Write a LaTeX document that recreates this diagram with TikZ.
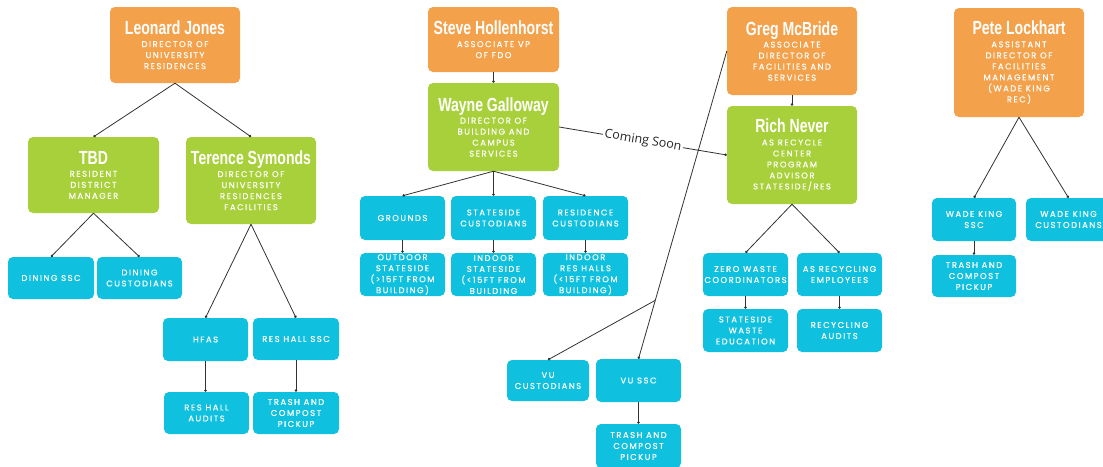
\documentclass[tikz,border=0pt]{standalone}
\usepackage{fontspec}
\usetikzlibrary{arrows.meta,calc}
\newfontfamily\namef{Liberation Sans}[FakeStretch=0.74]
\newfontfamily\rolef{Poppins}[LetterSpace=18, FakeBold=0.4]
\newfontfamily\soonf{Open Sans}
\definecolor{org}{RGB}{243,161,75}
\definecolor{grn}{RGB}{168,208,58}
\definecolor{cyn}{RGB}{16,193,223}
\definecolor{lnc}{RGB}{50,50,50}
\newcommand\nm[1]{{\namef\bfseries\fontsize{19}{20}\selectfont #1}\\[1.5pt]}
\tikzset{
 box/.style={rounded corners=5pt, text=white, align=center, inner sep=0pt, font=\rolef\fontsize{8.4}{11}\selectfont},
 obox/.style={box, fill=org},
 gbox/.style={box, fill=grn},
 cbox/.style={box, fill=cyn},
 conn/.style={draw=lnc, line width=0.8pt, -{Circle[length=2.6pt]}},
}
\begin{document}
\begin{tikzpicture}[x=1pt,y=-1pt]
\useasboundingbox (0,0) rectangle (1103,466);
% ---------- left tree ----------
\node[obox, minimum width=130pt, minimum height=76pt] (lj) at (175,45) {\nm{Leonard Jones}DIRECTOR OF\\UNIVERSITY\\RESIDENCES};
\node[gbox, minimum width=131pt, minimum height=76pt] (tbd) at (93.5,175) {\nm{TBD}RESIDENT\\DISTRICT\\MANAGER};
\node[gbox, minimum width=130pt, minimum height=87pt] (ts) at (251,180.5) {\nm{Terence Symonds}DIRECTOR OF\\UNIVERSITY\\RESIDENCES\\FACILITIES};
\node[cbox, minimum width=86pt, minimum height=42pt] (dssc) at (51,278) {DINING SSC};
\node[cbox, minimum width=85pt, minimum height=42pt] (dcust) at (139.5,278) {DINING\\CUSTODIANS};
\node[cbox, minimum width=85pt, minimum height=43pt] (hfas) at (205.5,339.5) {HFAS};
\node[cbox, minimum width=86pt, minimum height=42pt] (rhssc) at (296,339) {RES HALL SSC};
\node[cbox, minimum width=85pt, minimum height=42pt] (rhaud) at (206.5,413) {RES HALL\\AUDITS};
\node[cbox, minimum width=86pt, minimum height=42pt] (rhtrash) at (296,413) {TRASH AND\\COMPOST\\PICKUP};
\draw[conn] (lj.south) -- (tbd.north);
\draw[conn] (lj.south) -- (ts.north);
\draw[conn] (tbd.south) -- (dssc.north);
\draw[conn] (tbd.south) -- (dcust.north);
\draw[conn] (ts.south) -- (hfas.north);
\draw[conn] (ts.south) -- (rhssc.north);
\draw[conn] (hfas.south) -- (hfas.south |- rhaud.north);
\draw[conn] (rhssc.south) -- (rhtrash.north);
% ---------- middle tree ----------
\node[obox, minimum width=131pt, minimum height=65pt] (sh) at (493.5,39.5) {\nm{Steve Hollenhorst}ASSOCIATE VP\\OF FDO};
\node[gbox, minimum width=131pt, minimum height=88pt] (wg) at (493.5,127) {\nm{Wayne Galloway}DIRECTOR OF\\BUILDING AND\\CAMPUS\\SERVICES};
\node[cbox, minimum width=85pt, minimum height=44pt] (grounds) at (402.5,218) {GROUNDS};
\node[cbox, minimum width=85pt, minimum height=44pt] (sscust) at (493.5,218) {STATESIDE\\CUSTODIANS};
\node[cbox, minimum width=85pt, minimum height=44pt] (rescust) at (585.5,218) {RESIDENCE\\CUSTODIANS};
\node[cbox, minimum width=85pt, minimum height=43pt] (outdoor) at (402.5,274.5) {OUTDOOR\\STATESIDE\\(>15FT FROM\\BUILDING)};
\node[cbox, minimum width=85pt, minimum height=43pt] (indoorss) at (493.5,274.5) {INDOOR\\STATESIDE\\(<15FT FROM\\BUILDING};
\node[cbox, minimum width=85pt, minimum height=43pt] (indoorrh) at (585.5,274.5) {INDOOR\\RES HALLS\\(<15FT FROM\\BUILDING)};
\node[cbox, minimum width=82pt, minimum height=41pt] (vucust) at (548,380.5) {VU\\CUSTODIANS};
\node[cbox, minimum width=85pt, minimum height=43pt] (vussc) at (638.5,380.5) {VU SSC};
\node[cbox, minimum width=85pt, minimum height=44pt] (vutrash) at (638.5,446) {TRASH AND\\COMPOST\\PICKUP};
\draw[conn] (sh.south) -- (wg.north);
\draw[conn] (wg.south) -- (grounds.north);
\draw[conn] (wg.south) -- (sscust.north);
\draw[conn] (wg.south) -- (rescust.north);
\draw[conn] (grounds.south) -- (outdoor.north);
\draw[conn] (sscust.south) -- (indoorss.north);
\draw[conn] (rescust.south) -- (indoorrh.north);
\draw[conn] (vussc.south) -- (vutrash.north);
% ---------- right-middle tree ----------
\node[obox, minimum width=130pt, minimum height=88pt] (gm) at (792,51) {\nm{Greg McBride}ASSOCIATE\\DIRECTOR OF\\FACILITIES AND\\SERVICES};
\node[gbox, minimum width=130pt, minimum height=98pt] (rn) at (792,155) {\nm{Rich Never}AS RECYCLE\\CENTER\\PROGRAM\\ADVISOR\\STATESIDE/RES};
\node[cbox, minimum width=85pt, minimum height=43pt] (zw) at (745.5,274.5) {ZERO WASTE\\COORDINATORS};
\node[cbox, minimum width=85pt, minimum height=43pt] (asr) at (839.5,274.5) {AS RECYCLING\\EMPLOYEES};
\node[cbox, minimum width=85pt, minimum height=43pt] (swe) at (745.5,330.5) {STATESIDE\\WASTE\\EDUCATION};
\node[cbox, minimum width=85pt, minimum height=43pt] (raud) at (839.5,330.5) {RECYCLING\\AUDITS};
\draw[conn] (gm.south) -- (rn.north);
\draw[conn] (rn.south) -- (zw.north);
\draw[conn] (rn.south) -- (asr.north);
\draw[conn] (zw.south) -- (swe.north);
\draw[conn] (asr.south) -- (raud.north);
% Coming soon link
\draw[conn] (wg.east) -- node[sloped, fill=white, inner sep=1.5pt, text=black!85, font=\soonf\fontsize{12.5}{14}\selectfont] {Coming Soon} (rn.west);
% Greg to VU
\coordinate (br) at ($(gm.west)!0.81!(vussc.north)$);
\draw[conn] (gm.west) -- (vussc.north);
\draw[conn] (br) -- (vucust.north);
% ---------- right tree ----------
\node[obox, minimum width=130pt, minimum height=109pt] (pl) at (1019,62.5) {\nm{Pete Lockhart}ASSISTANT\\DIRECTOR OF\\FACILITIES\\MANAGEMENT\\(WADE KING\\REC)};
\node[cbox, minimum width=84pt, minimum height=43pt] (wkssc) at (974,219.5) {WADE KING\\SSC};
\node[cbox, minimum width=85pt, minimum height=43pt] (wkcust) at (1068.5,219.5) {WADE KING\\CUSTODIANS};
\node[cbox, minimum width=84pt, minimum height=42pt] (wktrash) at (974,276) {TRASH AND\\COMPOST\\PICKUP};
\draw[conn] (pl.south) -- (wkssc.north);
\draw[conn] (pl.south) -- (wkcust.north);
\draw[conn] (wkssc.south) -- (wktrash.north);
\end{tikzpicture}
\end{document}
